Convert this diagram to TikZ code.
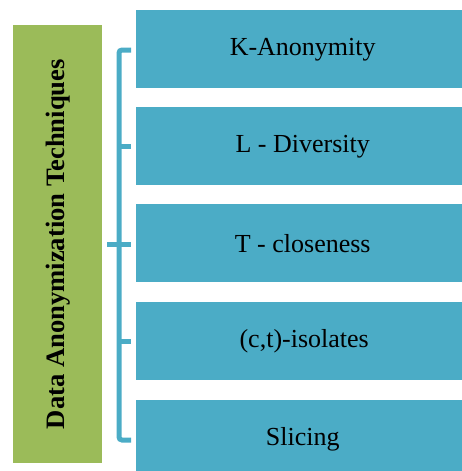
\documentclass[tikz,border=0pt]{standalone}
\usepackage{fontspec}
\setmainfont{Liberation Serif}
\definecolor{techgreen}{HTML}{9BBB59}
\definecolor{techblue}{HTML}{4BACC6}
\begin{document}
\begin{tikzpicture}[x=1pt,y=-1pt,
  itembox/.style={fill=techblue,draw=none,minimum width=333pt,minimum height=78pt,anchor=north west,inner sep=0pt,font=\fontsize{26}{30}\selectfont},
  headbox/.style={fill=techgreen,draw=none,minimum width=89pt,minimum height=438pt,anchor=north west,inner sep=0pt},
  brace/.style={draw=techblue,line width=5pt}]
\useasboundingbox (0,0) rectangle (462,471);
\clip (0,0) rectangle (462,471);
% heading column
\node[headbox] (head) at (13,25) {};
\node[rotate=90,font=\fontsize{26.6}{30}\selectfont\bfseries] (headtxt) at (head.center) {Data Anonymization Techniques};
% technique boxes
\node[itembox] (k) at (136,10) {K-Anonymity};
\node[itembox] (l) at (136,107) {L - Diversity};
\node[itembox] (t) at (136,204) {T - closeness};
\node[itembox] (c) at (136,302) {\hspace{3pt}(c,t)-isolates};
\node[itembox] (s) at (136,400) {Slicing};
% bracket joining the heading to the boxes
\coordinate (bx) at (119,0);
\coordinate (tx) at (131,0);
\draw[brace,rounded corners=3pt] (tx |- 0,50) -- (bx |- 0,50) -- (bx |- 0,440) -- (tx |- 0,440);
\draw[brace] (bx |- l.west) -- (tx |- l.west);
\draw[brace] (bx |- c.west) -- (tx |- c.west);
\draw[brace] (107,244) -- (tx |- 0,244);
\end{tikzpicture}
\end{document}
